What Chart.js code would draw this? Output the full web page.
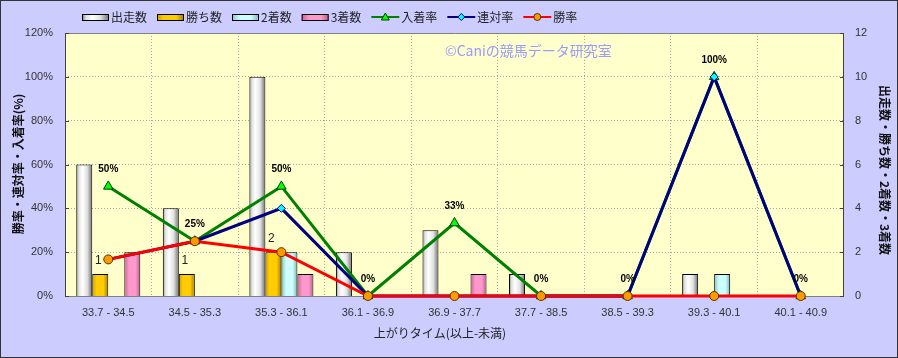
<!DOCTYPE html>
<html><head><meta charset="utf-8">
<script src="https://cdn.jsdelivr.net/npm/chart.js@4/dist/chart.umd.min.js"></script>
<style>html,body{margin:0;padding:0;background:#ccccff;} #wrap{width:898px;height:358px;position:relative;}</style>
</head><body><div id="wrap"><canvas id="c" width="898" height="358" style="width:898px;height:358px"></canvas></div>
<script>
// ---- data ----
const categories = ['33.7 - 34.5','34.5 - 35.3','35.3 - 36.1','36.1 - 36.9','36.9 - 37.7','37.7 - 38.5','38.5 - 39.3','39.3 - 40.1','40.1 - 40.9'];
const runs    = [6, 4, 10, 2, 3, 1, 0, 1, 0];
const wins    = [1, 1, 2, 0, 0, 0, 0, 0, 0];
const seconds = [0, 0, 2, 0, 0, 0, 0, 1, 0];
const thirds  = [2, 0, 1, 0, 1, 0, 0, 0, 0];
const placeRate  = [50, 25, 50, 0, 33.3, 0, 0, 100, 0];
const rentaiRate = [16.7, 25, 40, 0, 0, 0, 0, 100, 0];
const winRate    = [16.7, 25, 20, 0, 0, 0, 0, 0, 0];
const pctTicks   = [0, 20, 40, 60, 80, 100, 120];
const countTicks = [0, 2, 4, 6, 8, 10, 12];

const FONT = "'Liberation Sans','Noto Sans CJK JP',sans-serif";
const JP = "'Noto Sans CJK JP','Liberation Sans',sans-serif";

const STOPS = {
  runs:    [[0,'#7a7a7a'],[0.15,'#e0e0e0'],[0.38,'#ffffff'],[0.68,'#e2e2e2'],[1,'#6e6e6e']],
  wins:    [[0,'#d09a00'],[0.25,'#ffcc00'],[0.7,'#ffcc00'],[1,'#a67c00']],
  seconds: [[0,'#8cc4c4'],[0.3,'#ccffff'],[0.7,'#ccffff'],[1,'#7eb4b4']],
  thirds:  [[0,'#c86496'],[0.3,'#ff99cc'],[0.7,'#ff99cc'],[1,'#bb5e8c']]
};
function grad(ctx, x0, x1, stops){
  const g = ctx.createLinearGradient(x0, 0, x1, 0);
  stops.forEach(s => g.addColorStop(s[0], s[1]));
  return g;
}

const deco = {
  id: 'deco',
  beforeDraw(chart){
    const {ctx, chartArea: a} = chart;
    ctx.save();
    ctx.fillStyle = '#ccccff';
    ctx.fillRect(0, 0, chart.width, chart.height);
    ctx.fillStyle = '#ffffcc';
    ctx.fillRect(a.left, a.top, a.right - a.left, a.bottom - a.top);
    ctx.restore();
  },
  beforeDatasetsDraw(chart){
    const {ctx, chartArea: a} = chart;
    ctx.save();
    ctx.strokeStyle = '#808080'; ctx.lineWidth = 1;
    ctx.beginPath();
    ctx.moveTo(a.left + 0.5, a.top + 0.5); ctx.lineTo(a.right - 0.5, a.top + 0.5);
    ctx.moveTo(a.left, a.bottom + 0.5); ctx.lineTo(a.right, a.bottom + 0.5);
    ctx.stroke();
    ctx.strokeStyle = '#404040';
    ctx.beginPath();
    ctx.moveTo(a.left + 0.5, a.top); ctx.lineTo(a.left + 0.5, a.bottom + 1);
    ctx.moveTo(a.right - 0.5, a.top); ctx.lineTo(a.right - 0.5, a.bottom + 1);
    const ys = chart.scales.y, y1 = chart.scales.y1;
    pctTicks.forEach(v => { const p = Math.round(ys.getPixelForValue(v)) + 0.5; ctx.moveTo(a.left, p); ctx.lineTo(a.left + 4, p); });
    countTicks.forEach(v => { const p = Math.round(y1.getPixelForValue(v)) + 0.5; ctx.moveTo(a.right - 4, p); ctx.lineTo(a.right, p); });
    ctx.stroke();
    ctx.fillStyle = '#9a9aff';
    ctx.font = '14px ' + JP;
    ctx.textAlign = 'left'; ctx.textBaseline = 'middle';
    ctx.fillText('©Caniの競馬データ研究室', 445, 51);
    ctx.restore();
    chart.data.datasets.forEach((ds, i) => {
      if (!ds.gradKey) return;
      const meta = chart.getDatasetMeta(i);
      meta.data.forEach(el => {
        const x0 = el.x - el.width / 2, x1 = el.x + el.width / 2;
        el.options = Object.assign({}, el.options, {backgroundColor: grad(ctx, x0, x1, STOPS[ds.gradKey])});
      });
    });
  },
  afterDatasetsDraw(chart){
    const {ctx} = chart;
    ctx.save();
    ctx.textAlign = 'center'; ctx.textBaseline = 'middle';
    const pi = chart.data.datasets.findIndex(d => d.label === '入着率');
    ctx.font = 'bold 10px ' + FONT; ctx.fillStyle = '#000';
    chart.getDatasetMeta(pi).data.forEach((el, k) => {
      ctx.fillText(Math.round(placeRate[k]) + '%', el.x, el.y - 17);
    });
    const wi = chart.data.datasets.findIndex(d => d.label === '勝ち数');
    ctx.font = '12px ' + FONT; ctx.fillStyle = '#222';
    chart.getDatasetMeta(wi).data.forEach((el, k) => {
      if (wins[k] > 0) ctx.fillText(String(wins[k]), el.x - 2, el.y - 13);
    });
    ctx.restore();
  },
  afterDraw(chart){
    const {ctx} = chart;
    ctx.save();
    let x = 82; const yc = 17;
    ctx.font = '12px ' + JP; ctx.textBaseline = 'middle'; ctx.textAlign = 'left';
    chart.data.datasets.forEach(ds => {
      if (ds.gradKey) {
        ctx.fillStyle = grad(ctx, x, x + 27, STOPS[ds.gradKey]);
        ctx.fillRect(x, yc - 3, 27, 7);
        ctx.strokeStyle = '#000'; ctx.lineWidth = 1;
        ctx.strokeRect(x + 0.5, yc - 3 + 0.5, 26, 6);
        x += 29;
      } else {
        ctx.strokeStyle = ds.borderColor; ctx.lineWidth = 2;
        ctx.beginPath(); ctx.moveTo(x, yc); ctx.lineTo(x + 28, yc); ctx.stroke();
        const cx = x + 14;
        ctx.fillStyle = ds.pointBackgroundColor; ctx.strokeStyle = ds.pointBorderColor; ctx.lineWidth = 1;
        ctx.beginPath();
        if (ds.pointStyle === 'triangle') { ctx.moveTo(cx, yc - 4); ctx.lineTo(cx + 4, yc + 3); ctx.lineTo(cx - 4, yc + 3); ctx.closePath(); }
        else if (ds.pointStyle === 'rectRot') { ctx.moveTo(cx, yc - 3.5); ctx.lineTo(cx + 3.5, yc); ctx.lineTo(cx, yc + 3.5); ctx.lineTo(cx - 3.5, yc); ctx.closePath(); }
        else { ctx.arc(cx, yc, 3.5, 0, Math.PI * 2); }
        ctx.fill(); ctx.stroke();
        x += 30;
      }
      ctx.fillStyle = '#222';
      ctx.fillText(ds.label, x, yc);
      x += ctx.measureText(ds.label).width + 10;
    });
    ctx.fillStyle = '#111';
    ctx.font = 'bold 12px ' + JP; ctx.textAlign = 'center'; ctx.textBaseline = 'middle';
    ctx.save(); ctx.translate(18, 164); ctx.rotate(-Math.PI / 2); ctx.fillText('勝率・連対率・入着率(%)', 0, 0); ctx.restore();
    ctx.save(); ctx.translate(885, 170); ctx.rotate(Math.PI / 2); ctx.fillText('出走数・勝ち数・2着数・3着数', 0, 0); ctx.restore();
    ctx.font = '12px ' + JP; ctx.fillStyle = '#222';
    ctx.fillText('上がりタイム(以上-未満)', 440, 333);
    ctx.strokeStyle = '#333'; ctx.lineWidth = 1;
    ctx.strokeRect(0.5, 0.5, chart.width - 1, chart.height - 1);
    ctx.restore();
  }
};

const barBase = {type: 'bar', yAxisID: 'y1', borderColor: '#000', borderWidth: 1, order: 10, categoryPercentage: 0.74, barPercentage: 1.0};
const data = {
  labels: categories,
  datasets: [
    Object.assign({label: '出走数', data: runs, gradKey: 'runs', backgroundColor: '#ffffff'}, barBase),
    Object.assign({label: '勝ち数', data: wins, gradKey: 'wins', backgroundColor: '#ffcc00'}, barBase),
    Object.assign({label: '2着数', data: seconds, gradKey: 'seconds', backgroundColor: '#ccffff'}, barBase),
    Object.assign({label: '3着数', data: thirds, gradKey: 'thirds', backgroundColor: '#ff99cc'}, barBase),
    {type: 'line', label: '入着率', data: placeRate, yAxisID: 'y', order: 3, borderColor: '#008000', borderWidth: 3,
     pointStyle: 'triangle', pointRadius: 5.5, pointBackgroundColor: '#00ff00', pointBorderColor: '#004000', pointBorderWidth: 1, tension: 0, clip: false},
    {type: 'line', label: '連対率', data: rentaiRate, yAxisID: 'y', order: 2, borderColor: '#000080', borderWidth: 3,
     pointStyle: 'rectRot', pointRadius: 4, pointBackgroundColor: '#00ffff', pointBorderColor: '#000080', pointBorderWidth: 1, tension: 0, clip: false},
    {type: 'line', label: '勝率', data: winRate, yAxisID: 'y', order: 1, borderColor: '#ff0000', borderWidth: 3,
     pointStyle: 'circle', pointRadius: 4.5, pointBackgroundColor: '#ff9900', pointBorderColor: '#553300', pointBorderWidth: 1, tension: 0, clip: false}
  ]
};

new Chart(document.getElementById('c'), {
  type: 'bar',
  data,
  plugins: [deco],
  options: {
    responsive: false,
    animation: false,
    events: [],
    layout: {padding: {top: 33, left: 0, right: 0, bottom: 0}},
    font: {family: FONT},
    plugins: {legend: {display: false}, tooltip: {enabled: false}},
    scales: {
      x: {
        offset: true,
        grid: {color: '#a8a8a8', lineWidth: 1, drawTicks: false, offset: true},
        border: {display: false, dash: [1, 2]},
        ticks: {color: '#333', font: {size: 11, family: FONT}, padding: 10, maxRotation: 0, autoSkip: false},
        afterFit: s => { s.height = 62; }
      },
      y: {
        position: 'left',
        min: pctTicks[0], max: pctTicks[pctTicks.length - 1],
        grid: {color: '#a8a8a8', lineWidth: 1, drawTicks: false},
        border: {display: false, dash: [1, 2]},
        ticks: {stepSize: 20, color: '#333', font: {size: 11, family: FONT}, padding: 12, callback: v => v + '%'},
        afterFit: s => { s.width = 65; }
      },
      y1: {
        position: 'right',
        min: countTicks[0], max: countTicks[countTicks.length - 1],
        grid: {display: false, drawOnChartArea: false, drawTicks: false},
        border: {display: false},
        ticks: {stepSize: 2, color: '#333', font: {size: 11, family: FONT}, padding: 11},
        afterFit: s => { s.width = 54; }
      }
    }
  }
});
</script>
</body></html>
